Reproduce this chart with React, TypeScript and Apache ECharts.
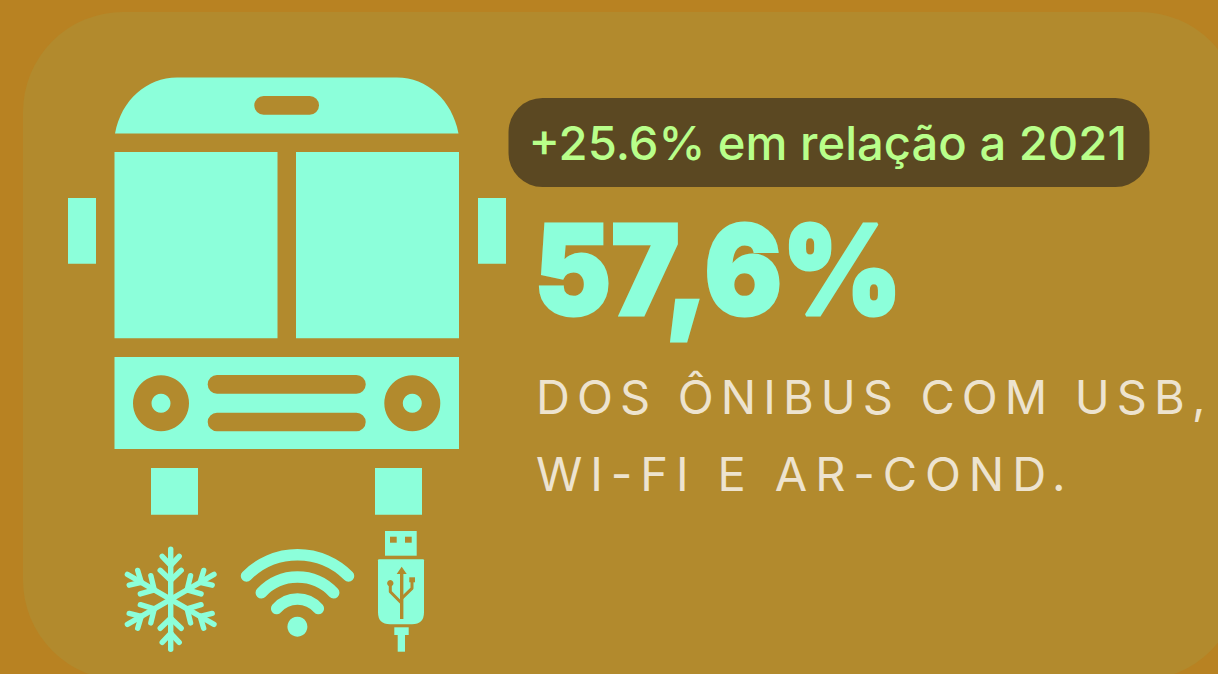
import React, { useEffect, useRef } from "react";
import * as echarts from "echarts";

const pillLabel = ["+25.6% em relação a 2021"];
const headline = ["57,6%"];
const captionLines = ["DOS ÔNIBUS COM USB,", "WI-FI E AR-COND."];
const captionSpacing = [7.1, 7.9];

const PAGE = "#B88222";
const PANEL = "#B28A2D";
const MINT = "#8CFFDA";
const PILL = "#5B4822";
const LIME = "#B9FF8A";
const CREAM = "#EDE3CF";

const rect = (x1: number, y1: number, x2: number, y2: number, fill: string, r: number = 0) => ({
  type: "rect",
  shape: { x: x1, y: y1, width: x2 - x1, height: y2 - y1, r },
  style: { fill },
});

const stroke = (points: number[][], color: string, lineWidth: number, lineCap = "round") => ({
  type: "polyline",
  shape: { points },
  style: { stroke: color, lineWidth, lineCap, lineJoin: "round", fill: "none" },
});

function snowflakeArm(index: number) {
  const lines = [
    [[0, 0], [0, -50]],
    [[0, -34], [-8.5, -43]],
    [[0, -34], [8.5, -43]],
    [[0, -19], [-10.5, -29]],
    [[0, -19], [10.5, -29]],
  ];
  return {
    type: "group",
    x: 170.7,
    y: 599.3,
    rotation: (index * Math.PI) / 3,
    children: lines.map((p) => stroke(p, MINT, 5.4)),
  };
}

const wifiArc = (r: number, half: number) => ({
  type: "arc",
  shape: { cx: 297.5, cy: 626.5, r, startAngle: -Math.PI / 2 - half, endAngle: -Math.PI / 2 + half, clockwise: true },
  style: { stroke: MINT, lineWidth: 11.5, lineCap: "round", fill: "none" },
});

export default function App() {
  const ref = useRef<HTMLDivElement>(null);
  useEffect(() => {
    document.body.style.margin = "0";
    document.body.style.overflow = "hidden";

    echarts.graphic.registerShape(
      "busRoof",
      echarts.graphic.extendPath(
        "M115 133.5 C121 100 147 77.5 177 77.5 L397 77.5 C427 77.5 452 100 458.5 133.5 Z",
        {}
      ) as any
    );
    echarts.graphic.registerShape(
      "usbBody",
      echarts.graphic.extendPath(
        "M379 559.3 L423 559.3 Q424 559.3 424 560.3 L424 612.3 Q424 624.3 412 624.3 L390 624.3 Q378 624.3 378 612.3 L378 560.3 Q378 559.3 379 559.3 Z",
        {}
      ) as any
    );

    const chart = echarts.init(ref.current!, undefined, { renderer: "svg" });
    const elements: any[] = [
      rect(23, 12, 1240, 680, PANEL, 100),
      { type: "busRoof", style: { fill: MINT } },
      rect(254.3, 96, 319, 114.7, PANEL, 9.3),
      rect(114.5, 152, 277.5, 338.3, MINT),
      rect(296, 152, 459, 338.3, MINT),
      rect(68, 198, 96, 263.7, MINT),
      rect(478, 198, 506, 263.7, MINT),
      rect(114.5, 357, 459, 449, MINT),
      { type: "circle", shape: { cx: 161, cy: 403.3, r: 28 }, style: { fill: PANEL } },
      { type: "circle", shape: { cx: 161, cy: 403.3, r: 9.5 }, style: { fill: MINT } },
      { type: "circle", shape: { cx: 412.3, cy: 403.3, r: 28 }, style: { fill: PANEL } },
      { type: "circle", shape: { cx: 412.3, cy: 403.3, r: 9.5 }, style: { fill: MINT } },
      rect(207.7, 375, 365.7, 393.7, PANEL, 9.3),
      rect(207.7, 412.7, 365.7, 431.3, PANEL, 9.3),
      rect(151, 468, 198, 514.7, MINT),
      rect(375, 468, 422, 514.7, MINT),
      ...[0, 1, 2, 3, 4, 5].map(snowflakeArm),
      wifiArc(71.8, 0.79),
      wifiArc(49.5, 0.82),
      wifiArc(27.5, 0.86),
      { type: "circle", shape: { cx: 297.4, cy: 626.7, r: 10 }, style: { fill: MINT } },
      rect(385, 531, 416.7, 555.7, MINT),
      rect(390, 536.7, 396.7, 542.7, PANEL),
      rect(405, 536.7, 411.7, 542.7, PANEL),
      { type: "usbBody", style: { fill: MINT } },
      rect(394.3, 627.3, 408.7, 635, MINT),
      rect(397.7, 635, 405, 651.7, MINT),
      stroke([[401.7, 572], [401.7, 619]], PANEL, 3.4, "butt"),
      { type: "polygon", shape: { points: [[401.7, 566.7], [396.7, 574], [406.7, 574]] }, style: { fill: PANEL } },
      stroke([[390.3, 584], [390.3, 591.7], [401.7, 603.3]], PANEL, 3, "butt"),
      { type: "circle", shape: { cx: 390.3, cy: 583.3, r: 3.2 }, style: { fill: PANEL } },
      stroke([[412, 582], [412, 588.3], [401.7, 598.3]], PANEL, 3, "butt"),
      rect(409.3, 577.3, 415, 582.3, PANEL),
      rect(508.5, 98, 1149.5, 187, PILL, 34),
      {
        type: "text",
        x: 528.5,
        y: 118.5,
        style: {
          text: pillLabel[0],
          fill: LIME,
          fontFamily: "Inter",
          fontWeight: 500,
          fontSize: 47.2,
        },
      },
      {
        type: "text",
        x: 534.6,
        y: 207,
        scaleX: 0.92,
        style: {
          text: headline[0],
          fill: MINT,
          stroke: MINT,
          lineWidth: 3,
          fontFamily: "Inter",
          fontWeight: 900,
          fontSize: 125,
        },
      },
      ...captionLines.map((line, i) => ({
        type: "text",
        x: 536,
        y: 373 + i * 76.5,
        style: {
          text: line,
          fill: CREAM,
          fontFamily: "Inter",
          fontWeight: 400,
          fontSize: 47,
        },
      })),
    ];
    chart.setOption({
      animation: false,
      backgroundColor: PAGE,
      graphic: { elements },
    });
    ref.current!.querySelectorAll("text").forEach((node) => {
      const index = captionLines.indexOf(node.textContent || "");
      if (index >= 0) node.style.letterSpacing = `${captionSpacing[index]}px`;
    });
    return () => {
      chart.dispose();
    };
  }, []);
  return <div ref={ref} style={{ position: "fixed", left: 0, top: 0, width: 1218, height: 674 }} />;
}
